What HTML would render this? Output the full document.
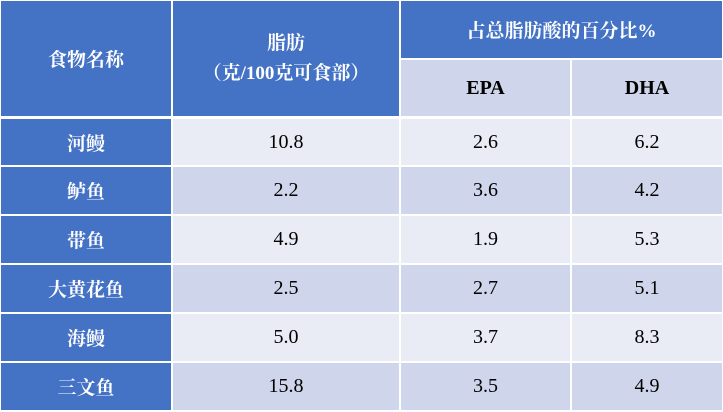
<!DOCTYPE html>
<html><head><meta charset="utf-8"><style>
html,body{margin:0;padding:0;}
body{width:723px;height:412px;background:#fff;position:relative;overflow:hidden;}
.c{position:absolute;display:flex;align-items:center;justify-content:center;text-align:center;box-sizing:border-box;}
.h{background:#4472C4;color:#fff;font-family:"Liberation Serif","Noto Serif CJK SC",serif;font-weight:bold;font-size:19px;}
.s{background:#CFD5EA;color:#000;font-family:"Liberation Serif","Noto Serif CJK SC",serif;font-weight:bold;font-size:20px;}
.n{color:#000;font-family:"Liberation Serif",serif;font-size:20px;}
.l{background:#E9EBF5;}
.d{background:#CFD5EA;}
</style></head><body>
<div class="c h" style="left:1px;top:1px;width:170px;height:115px;">食物名称</div>
<div class="c h" style="left:173px;top:1px;width:226px;height:115px;line-height:30px;">脂肪<br>（克/100克可食部）</div>
<div class="c h" style="left:401px;top:1px;width:321px;height:57px;">占总脂肪酸的百分比%</div>
<div class="c s" style="left:401px;top:60px;width:169px;height:56px;">EPA</div>
<div class="c s" style="left:572px;top:60px;width:150px;height:56px;">DHA</div>

<div class="c h" style="left:1px;top:119px;width:170px;height:46px;">河鳗</div>
<div class="c n l" style="left:173px;top:119px;width:226px;height:46px;">10.8</div>
<div class="c n l" style="left:401px;top:119px;width:169px;height:46px;">2.6</div>
<div class="c n l" style="left:572px;top:119px;width:150px;height:46px;">6.2</div>

<div class="c h" style="left:1px;top:167px;width:170px;height:47px;">鲈鱼</div>
<div class="c n d" style="left:173px;top:167px;width:226px;height:47px;">2.2</div>
<div class="c n d" style="left:401px;top:167px;width:169px;height:47px;">3.6</div>
<div class="c n d" style="left:572px;top:167px;width:150px;height:47px;">4.2</div>

<div class="c h" style="left:1px;top:216px;width:170px;height:47px;">带鱼</div>
<div class="c n l" style="left:173px;top:216px;width:226px;height:47px;">4.9</div>
<div class="c n l" style="left:401px;top:216px;width:169px;height:47px;">1.9</div>
<div class="c n l" style="left:572px;top:216px;width:150px;height:47px;">5.3</div>

<div class="c h" style="left:1px;top:265px;width:170px;height:47px;">大黄花鱼</div>
<div class="c n d" style="left:173px;top:265px;width:226px;height:47px;">2.5</div>
<div class="c n d" style="left:401px;top:265px;width:169px;height:47px;">2.7</div>
<div class="c n d" style="left:572px;top:265px;width:150px;height:47px;">5.1</div>

<div class="c h" style="left:1px;top:314px;width:170px;height:47px;">海鳗</div>
<div class="c n l" style="left:173px;top:314px;width:226px;height:47px;">5.0</div>
<div class="c n l" style="left:401px;top:314px;width:169px;height:47px;">3.7</div>
<div class="c n l" style="left:572px;top:314px;width:150px;height:47px;">8.3</div>

<div class="c h" style="left:1px;top:363px;width:170px;height:47px;">三文鱼</div>
<div class="c n d" style="left:173px;top:363px;width:226px;height:47px;">15.8</div>
<div class="c n d" style="left:401px;top:363px;width:169px;height:47px;">3.5</div>
<div class="c n d" style="left:572px;top:363px;width:150px;height:47px;">4.9</div>
</body></html>
